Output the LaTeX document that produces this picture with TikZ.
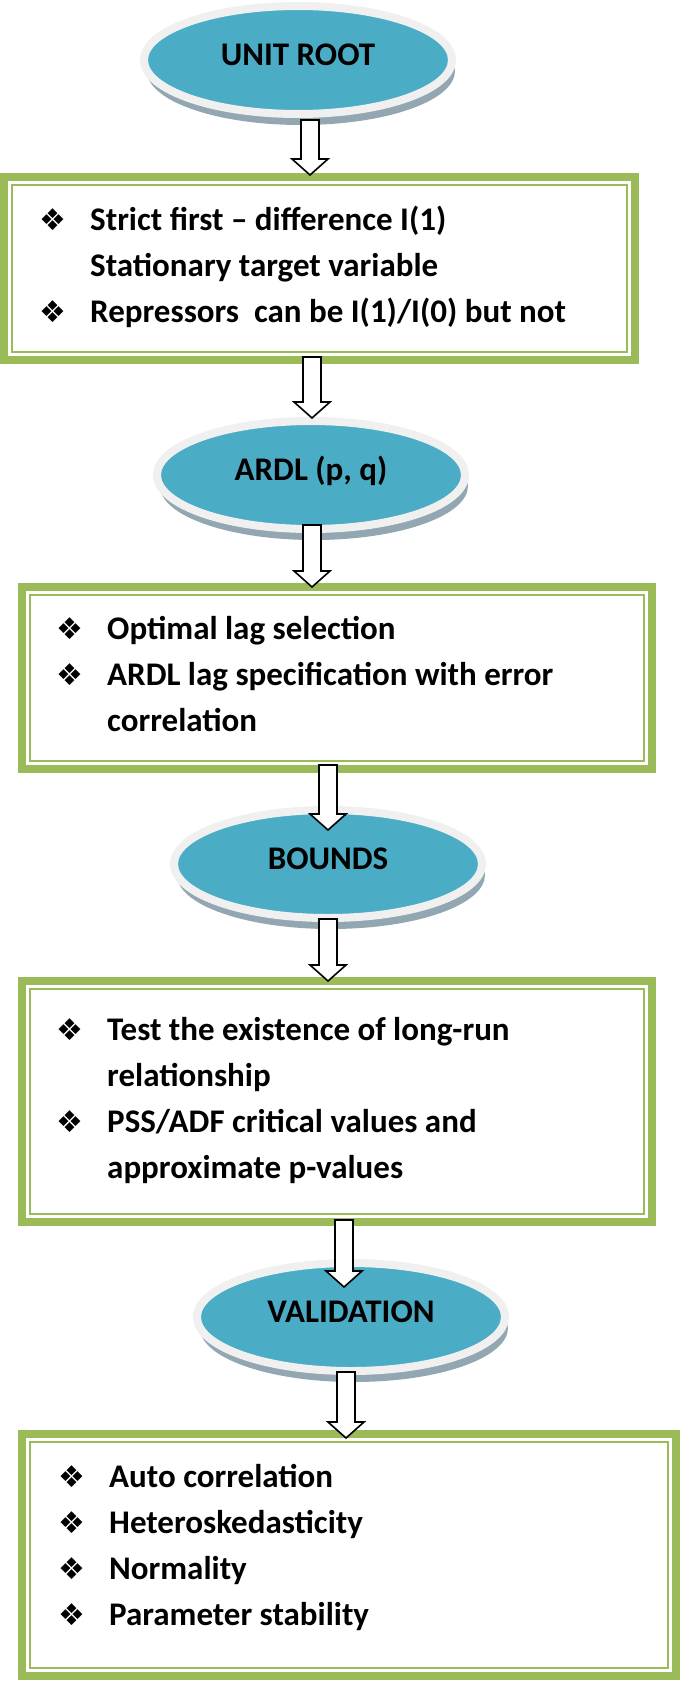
\documentclass[tikz,border=0pt]{standalone}
\usepackage{fontspec}
\setmainfont{Carlito}
\newfontfamily\dingfont{DejaVu Sans}
\usetikzlibrary{shapes.geometric,shadows,calc}
\definecolor{stageblue}{RGB}{75,172,198}
\definecolor{framegreen}{RGB}{155,187,89}
\definecolor{rimgray}{RGB}{240,240,240}
\definecolor{shadegray}{RGB}{146,167,177}
\newcommand{\diabul}{\makebox[51pt][l]{\dingfont\fontsize{30}{30}\selectfont ❖}}

\begin{document}
\begin{tikzpicture}[x=1pt,y=-1pt,
	stage/.style={ellipse, fill=stageblue, draw=rimgray, line width=8pt, minimum width=308pt, minimum height=108pt, inner sep=0pt, outer sep=0pt, text height=21pt, text depth=11pt, font=\fontsize{33}{40}\selectfont\bfseries, drop shadow={shadow xshift=3pt, shadow yshift=-11pt, fill=shadegray, opacity=1}},
	frame/.style={rectangle, draw=framegreen, line width=8pt, inner sep=0pt, outer sep=0pt},
	inframe/.style={draw=framegreen, line width=2.5pt},
	items/.style={anchor=base west, inner sep=0pt, font=\fontsize{33}{46}\selectfont\bfseries},
	blockarrow/.style={draw=black, fill=white, line width=1.6pt, line join=miter,
		to path={let \p1=(\tikztostart), \p2=(\tikztotarget) in (\x1-9pt,\y1) -- (\x1-9pt,\y2+16pt) -- (\x1-18pt,\y2+16pt) -- (\x1,\y2) -- (\x1+18pt,\y2+16pt) -- (\x1+9pt,\y2+16pt) -- (\x1+9pt,\y1) -- cycle}}]
	\useasboundingbox (0,0) rectangle (685,1681);

	%boxes
	\node[frame, minimum width=631pt, minimum height=183pt] (box1) at (319.5,268.5) {};
	\node[frame, minimum width=630pt, minimum height=182pt] (box2) at (337,678) {};
	\node[frame, minimum width=630pt, minimum height=241pt] (box3) at (337,1101.5) {};
	\node[frame, minimum width=654pt, minimum height=242pt] (box4) at (349,1555) {};
	\foreach \b in {box1, box2, box3, box4}{
		\draw[inframe] ([shift={(8,8)}]\b.north west) rectangle ([shift={(-8,-8)}]\b.south east);
	}

	\node[items] (list1) at (39,230) {\begin{tabular}[t]{@{}l@{}l@{}}
		\diabul & Strict first – difference I(1)\\
		 & Stationary target variable\\
		\diabul & Repressors\ \ can be I(1)/I(0) but not
	\end{tabular}};
	\node[items] (list2) at (56,639) {\begin{tabular}[t]{@{}l@{}l@{}}
		\diabul & Optimal lag selection\\
		\diabul & ARDL lag specification with error\\
		 & correlation
	\end{tabular}};
	\node[items] (list3) at (56,1040) {\begin{tabular}[t]{@{}l@{}l@{}}
		\diabul & Test the existence of long-run\\
		 & relationship\\
		\diabul & PSS/ADF critical values and\\
		 & approximate p-values
	\end{tabular}};
	\node[items] (list4) at (58,1487) {\begin{tabular}[t]{@{}l@{}l@{}}
		\diabul & Auto correlation\\
		\diabul & Heteroskedasticity\\
		\diabul & Normality\\
		\diabul & Parameter stability
	\end{tabular}};

	%stages
	\node[stage] (unit) at (298,60) {UNIT ROOT};
	\node[stage] (ardl) at (311,475) {ARDL (p, q)};
	\node[stage] (bounds) at (328,864) {BOUNDS};
	\node[stage] (valid) at (351,1317) {VALIDATION};

	%arrows
	\foreach \from/\to/\dx/\dya/\dyb in {unit.south/box1.north/12/-6/2, box1.south/ardl.north/-7.5/3/3,
		ardl.south/box2.north/1/4/0, box2.south/bounds.north/-9/4/-20, bounds.south/box3.north/0/-1/0,
		box3.south/valid.north/7/2/-24, valid.south/box4.north/-5/-1/-4}{
		\draw[blockarrow] ([xshift=\dx pt,yshift=\dya pt]\from) to ([yshift=\dyb pt]\to);
	}
\end{tikzpicture}
\end{document}
